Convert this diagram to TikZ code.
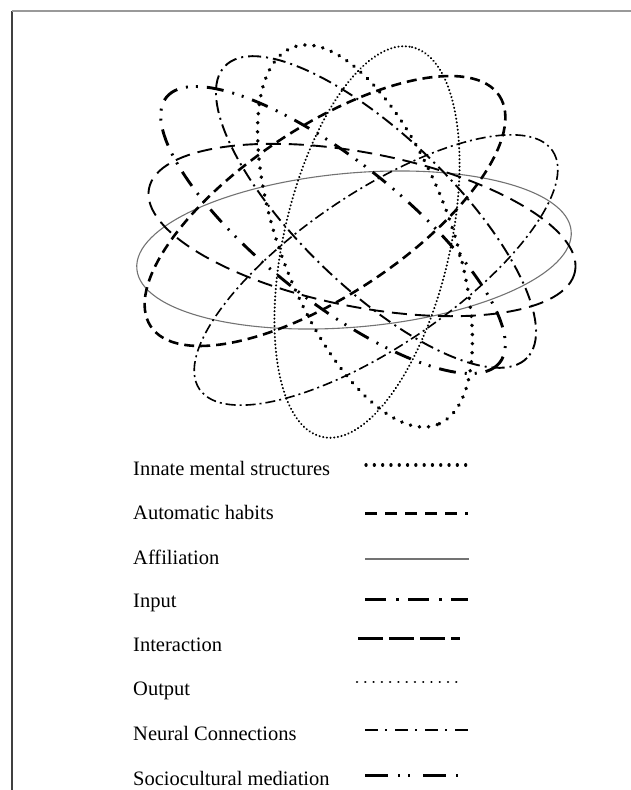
\documentclass[tikz,border=0pt]{standalone}
\usepackage{fontspec}
\setmainfont{Liberation Serif}
\begin{document}
\begin{tikzpicture}[x=1bp,y=-1bp,
  innate/.style={line width=3.8bp, dash pattern=on 0.1bp off 9bp, line cap=round},
  outputs/.style={line width=2.2bp, dash pattern=on 0.1bp off 3.6bp, line cap=round},
  affil/.style={line width=1.1bp, draw=black!55},
  autohab/.style={line width=2.6bp, dash pattern=on 10bp off 6bp},
  interact/.style={line width=1.9bp, dash pattern=on 15bp off 8bp},
  inputs/.style={line width=1.9bp, dash pattern=on 13bp off 5bp on 2bp off 5bp},
  neural/.style={line width=1.6bp, dash pattern=on 10bp off 4bp on 2bp off 4bp},
  socio/.style={line width=2.9bp, dash pattern=on 17bp off 9bp on 2bp off 8bp on 2bp off 9bp},
  innateL/.style={line width=3.2bp, dash pattern=on 0.1bp off 8.2bp, line cap=round},
  autohabL/.style={line width=3bp, dash pattern=on 12bp off 8bp},
  inputL/.style={line width=3bp, dash pattern=on 21bp off 10bp on 3bp off 9bp},
  interactL/.style={line width=3bp, dash pattern=on 25bp off 6bp},
  outputL/.style={line width=2.4bp, dash pattern=on 0.1bp off 8.17bp, line cap=round},
  neuralL/.style={line width=2.5bp, dash pattern=on 13bp off 7bp on 2bp off 8bp},
  socioL/.style={line width=3bp, dash pattern=on 23bp off 10bp on 2bp off 8bp on 2bp off 13bp},
  lab/.style={anchor=base west, inner sep=0pt, font=\fontsize{20.5bp}{24bp}\selectfont}
]
\useasboundingbox (0,0) rectangle (631,790);
% page frame
\coordinate (fa) at (12,11);
\coordinate (fb) at (12,790);
\coordinate (fc) at (631,11);
\draw[black!75, line width=1.3bp] (fa) -- (fb);
\draw[black!40, line width=1.5bp] (fa) -- (fc);

% ellipses
\draw[affil, rotate around={5:(354,250)}] (354,250) ellipse [x radius=218, y radius=77];
\draw[autohab, rotate around={33.5:(325,211)}] (325,211) ellipse [x radius=209, y radius=84];
\draw[interact, rotate around={-11:(362,230)}] (362,230) ellipse [x radius=217, y radius=77];
\draw[socio, rotate around={-38.5:(333,230)}] (333,230) ellipse [x radius=213, y radius=70];
\draw[inputs, rotate around={-44:(376,212)}] (376,212) ellipse [x radius=210, y radius=76];
\draw[neural, rotate around={34:(376,270)}] (376,270) ellipse [x radius=213, y radius=77];
\draw[outputs, rotate around={77:(367,242)}] (367,242) ellipse [x radius=200, y radius=83];
\draw[innate, rotate around={-69:(365,236)}] (365,236) ellipse [x radius=202, y radius=85];

% legend
\node[lab] (t1) at (133,475) {Innate mental structures};
\node[lab] (t2) at (133,519.5) {Automatic habits};
\node[lab] (t3) at (133,564) {Affiliation};
\node[lab] (t4) at (133,607.5) {Input};
\node[lab] (t5) at (133,651) {Interaction};
\node[lab] (t6) at (133,695.5) {Output};
\node[lab] (t7) at (133,740) {Neural Connections};
\node[lab] (t8) at (133,785) {Sociocultural mediation};

\coordinate (l1a) at (366,465); \coordinate (l1b) at (468,465);
\coordinate (l2a) at (365,513); \coordinate (l2b) at (468,513);
\coordinate (l3a) at (365,559); \coordinate (l3b) at (469,559);
\coordinate (l4a) at (365,599); \coordinate (l4b) at (468,599);
\coordinate (l5a) at (358,638); \coordinate (l5b) at (460,638);
\coordinate (l6a) at (357,682); \coordinate (l6b) at (457,682);
\coordinate (l7a) at (365,730); \coordinate (l7b) at (468,730);
\coordinate (l8a) at (365,775); \coordinate (l8b) at (466,775);
\draw[innateL] (l1a) -- (l1b);
\draw[autohabL] (l2a) -- (l2b);
\draw[affil] (l3a) -- (l3b);
\draw[inputL] (l4a) -- (l4b);
\draw[interactL] (l5a) -- (l5b);
\draw[outputL] (l6a) -- (l6b);
\draw[neuralL] (l7a) -- (l7b);
\draw[socioL] (l8a) -- (l8b);
\end{tikzpicture}
\end{document}
